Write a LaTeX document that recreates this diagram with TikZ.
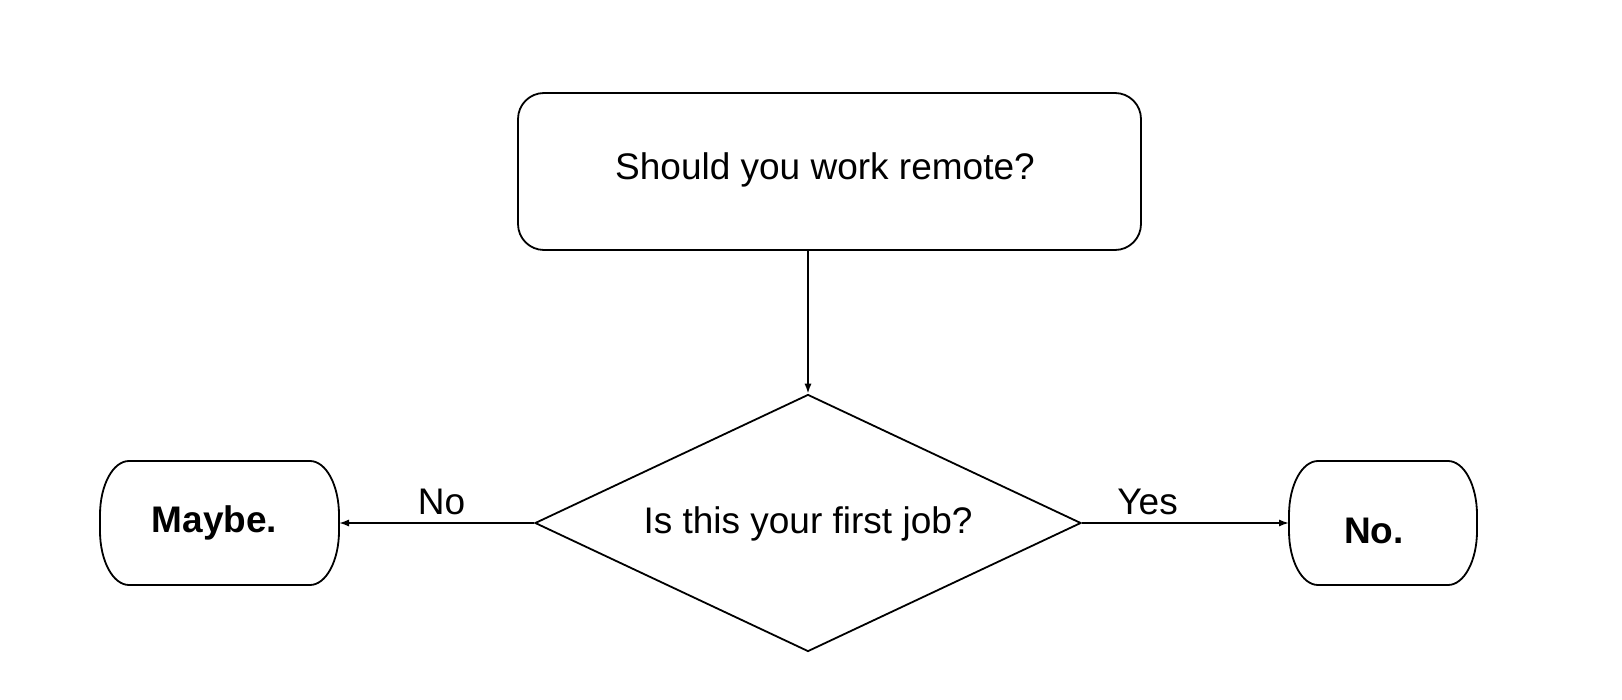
\documentclass[tikz,border=0pt]{standalone}
\usepackage{fontspec}
\setmainfont{Liberation Sans}
\usetikzlibrary{shapes.geometric,arrows.meta}
\begin{document}
\begin{tikzpicture}[x=0.5pt,y=-0.5pt,
  line width=0.9pt,
  lbl/.style={font=\fontsize{18.5}{22}\selectfont, inner sep=0pt, anchor=base},
  blbl/.style={font=\fontsize{18.5}{22}\selectfont\bfseries, inner sep=0pt, anchor=base},
  arr/.style={-{Latex[length=5pt,width=3.6pt]}},
  qbox/.style={draw, rounded corners=13pt, minimum width=311.5pt, minimum height=78.5pt, inner sep=0pt},
  dec/.style={draw, diamond, minimum width=273pt, minimum height=128.5pt, inner sep=0pt, shape aspect=2.12},
  term/.style={draw=none, inner sep=0pt, outer sep=0pt, minimum height=62pt},
  termline/.style={draw, line width=0.9pt, line join=round}
]
\useasboundingbox (0,0) rectangle (1622,700);
\node[qbox] (q1) at (829.5,171.5) {};
\node[lbl] (q1t) at (825,180) {Should you work remote?};
\node[dec] (q2) at (808,523) {};
\node[lbl] (q2t) at (808,533) {Is this your first job?};
\node[term, minimum width=119.5pt] (maybe) at (219.5,523) {};
\node[term, minimum width=94pt] (no) at (1383,523) {};
\node[blbl] (maybet) at (214.5,532) {Maybe.};
\node[blbl] (not) at (1374,543) {No.};
\foreach \t in {maybe,no}{
\path[termline] ([xshift=14.5pt]\t.north west) -- ([xshift=-14.5pt]\t.north east)
  arc[start angle=90,end angle=0,x radius=14.5pt,y radius=27pt]
  -- ([yshift=27pt]\t.south east)
  arc[start angle=0,end angle=-90,x radius=14.5pt,y radius=27pt]
  -- ([xshift=14.5pt]\t.south west)
  arc[start angle=270,end angle=180,x radius=14.5pt,y radius=27pt]
  -- ([yshift=-27pt]\t.north west)
  arc[start angle=180,end angle=90,x radius=14.5pt,y radius=27pt] -- cycle;
}
\draw[arr] (q1.south -| q2.north) -- (q2.north);
\draw[arr] (q2.west) -- node[lbl, pos=0.474, yshift=4.5pt] {No} (maybe.east);
\draw[arr] (q2.east) -- node[lbl, pos=0.317, yshift=4.5pt] {Yes} (no.west);
\end{tikzpicture}
\end{document}
